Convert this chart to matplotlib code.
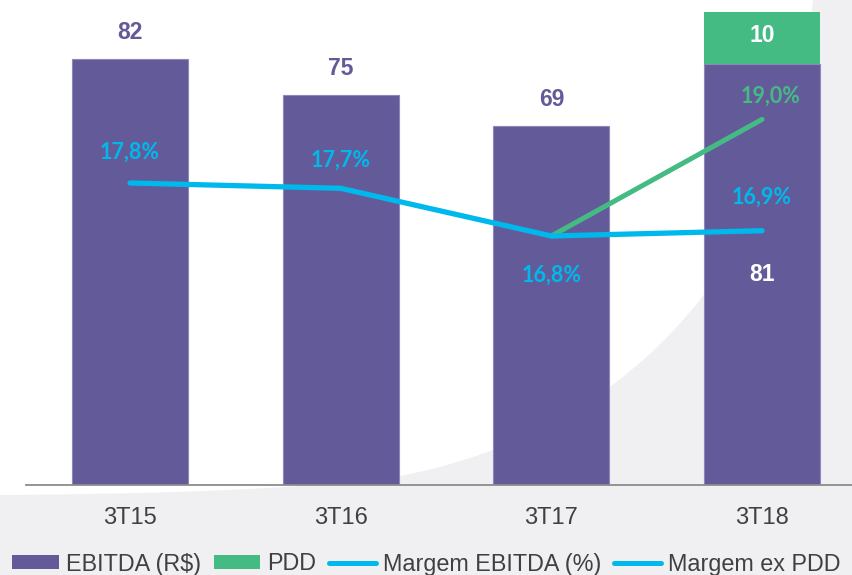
import numpy as np
import matplotlib
matplotlib.use("Agg")
import matplotlib.pyplot as plt
from matplotlib.path import Path
from matplotlib.patches import PathPatch, Patch
from matplotlib.lines import Line2D

# ---- data ----
quarters = ['3T15', '3T16', '3T17', '3T18']
ebitda = [82, 75, 69, 81]
pdd = [0, 0, 0, 10]
margem = [17.8, 17.7, 16.8, 16.9]
margem_ex = [np.nan, np.nan, 16.8, 19.0]
margem_labels = ['17,8%', '17,7%', '16,8%', '16,9%']
margem_ex_labels = ['', '', '', '19,0%']

PURPLE = '#635b99'
GREEN = '#45bb84'
CYAN = '#00b9ec'
GRAY_BG = '#f0f0f2'
TXT = '#404040'

W, H = 852, 575
fig = plt.figure(figsize=(W / 100, H / 100), dpi=100, facecolor=GRAY_BG)

# white decorative background shape (pixel coords, y down)
def fp(x, y):
    return (x / W, 1 - y / H)

bg = fig.add_axes([0, 0, 1, 1], zorder=-5)
bg.set_axis_off()
bg.set_xlim(0, 1)
bg.set_ylim(0, 1)
verts = [fp(0, 0), fp(813, 0),
         fp(790, 250), fp(640, 430), fp(400, 476),
         fp(300, 490), fp(150, 494), fp(0, 495),
         fp(0, 0)]
codes = [Path.MOVETO, Path.LINETO,
         Path.CURVE4, Path.CURVE4, Path.CURVE4,
         Path.CURVE4, Path.CURVE4, Path.CURVE4,
         Path.CLOSEPOLY]
bg.add_patch(PathPatch(Path(verts, codes), facecolor='white', edgecolor='none'))

ax = fig.add_axes([26 / W, (H - 485) / H, (W - 26) / W, 485 / H], zorder=1)
ax.set_facecolor('none')
x = np.arange(len(quarters))
bw = 0.55
ax.bar(x, ebitda, width=bw, color=PURPLE, edgecolor='#8d87bb', linewidth=0.8, zorder=2)
pdd_idx = [i for i, v in enumerate(pdd) if v > 0]
ax.bar([x[i] for i in pdd_idx], [pdd[i] for i in pdd_idx],
       bottom=[ebitda[i] for i in pdd_idx], width=bw, color=GREEN,
       edgecolor='none', zorder=2)

ax.set_xlim(-0.494, 3.427)
ax.set_ylim(0, 485 / 5.2)
for s in ['top', 'right', 'left']:
    ax.spines[s].set_visible(False)
ax.spines['bottom'].set_color('#8c8c8c')
ax.spines['bottom'].set_linewidth(1.3)
ax.set_yticks([])
ax.set_xticks(x)
ax.set_xticklabels(quarters, fontsize=17, color=TXT, family='Liberation Sans')
ax.tick_params(axis='x', length=0, pad=16)

bar_font = dict(family='Liberation Sans', fontweight='bold', fontsize=16.5)
for i, v in enumerate(ebitda):
    if pdd[i] > 0:
        ax.text(x[i], pdd[i] / 2 + ebitda[i] + 0.5, str(pdd[i]), ha='center', va='center',
                color='white', zorder=5, **bar_font)
        ax.text(x[i], ebitda[i] / 2, str(v), ha='center', va='center',
                color='white', zorder=5, **bar_font)
    else:
        ax.annotate(str(v), (x[i], v), xytext=(0, 19), textcoords='offset points',
                    ha='center', va='center', color=PURPLE, zorder=5, **bar_font)

ax2 = ax.twinx()
ax2.set_ylim(16.8 - 249 / 53, 16.8 + 236 / 53)
ax2.set_axis_off()
ax2.plot(x, margem_ex, color=GREEN, lw=3.6, solid_capstyle='round', zorder=3)
ax2.plot(x, margem, color=CYAN, lw=3.8, solid_capstyle='round',
         solid_joinstyle='round', zorder=4)

pct_font = dict(family='Lato', fontweight='bold', fontsize=15.5)
offs = [(0, 22), (0, 20), (0, -28), (0, 24)]
for i, lab in enumerate(margem_labels):
    ax2.annotate(lab, (x[i], margem[i]), xytext=offs[i], textcoords='offset points',
                 ha='center', va='center', color=CYAN, **pct_font)
for i, lab in enumerate(margem_ex_labels):
    if lab:
        ax2.annotate(lab, (x[i], margem_ex[i]), xytext=(6, 17), textcoords='offset points',
                     ha='center', va='center', color=GREEN, **pct_font)

handles = [Patch(facecolor=PURPLE, edgecolor='none'),
           Patch(facecolor=GREEN, edgecolor='none'),
           Line2D([], [], color=CYAN, lw=3.6, solid_capstyle='round'),
           Line2D([], [], color=CYAN, lw=3.6, solid_capstyle='round')]
labels = ['EBITDA (R$)', 'PDD', 'Margem EBITDA (%)', 'Margem ex PDD']
leg = fig.legend(handles, labels, loc='center', bbox_to_anchor=(0.5, 11 / H),
                 ncol=4, frameon=False, prop={'family': 'Liberation Sans', 'size': 16.8},
                 handlelength=2.0, handleheight=0.55, handletextpad=0.3,
                 columnspacing=0.55, borderaxespad=0, borderpad=0)
for t in leg.get_texts():
    t.set_color(TXT)

fig.savefig('out.png', dpi=100, facecolor=GRAY_BG)
